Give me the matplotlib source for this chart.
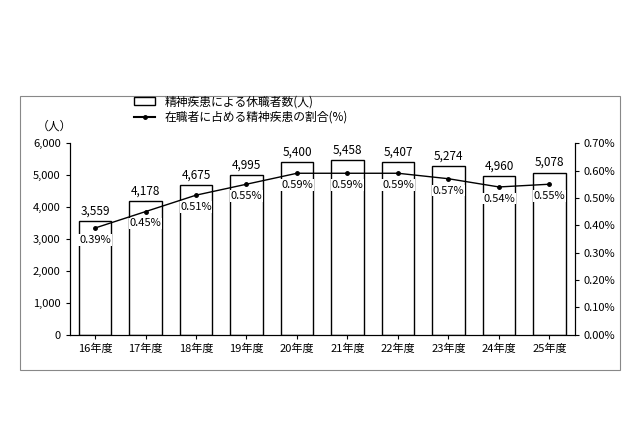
import matplotlib
matplotlib.use("Agg")
import matplotlib.pyplot as plt
from matplotlib.patches import Rectangle
from matplotlib.lines import Line2D
from matplotlib.patches import Patch

plt.rcParams["font.family"] = ["Noto Sans CJK JP", "DejaVu Sans"]

years = ["16年度", "17年度", "18年度", "19年度", "20年度", "21年度", "22年度", "23年度", "24年度", "25年度"]
leave_counts = [3559, 4178, 4675, 4995, 5400, 5458, 5407, 5274, 4960, 5078]
ratios = [0.39, 0.45, 0.51, 0.55, 0.59, 0.59, 0.59, 0.57, 0.54, 0.55]

fig = plt.figure(figsize=(6.4, 4.26), dpi=100)
fig.patch.set_facecolor("white")
fig.add_artist(Rectangle((20 / 640, 1 - 370 / 426), 600 / 640, 274 / 426,
                         transform=fig.transFigure, fill=False, edgecolor="#888888", lw=0.8))

ax = fig.add_axes([0.109, 0.214, 0.789, 0.45])
x = range(len(years))
ax.bar(x, leave_counts, width=0.65, facecolor="white", edgecolor="black", linewidth=1.0)
ax.set_ylim(0, 6000)
ax.set_xlim(-0.5, len(years) - 0.5)
ax.set_yticks(range(0, 6001, 1000))
ax.set_yticklabels([f"{v:,}" for v in range(0, 6001, 1000)], fontsize=8)
ax.set_xticks(list(x))
ax.set_xticklabels(years, fontsize=8)
for s in ["top"]:
    ax.spines[s].set_visible(False)
ax.tick_params(length=3, width=0.8)
for i, v in enumerate(leave_counts):
    ax.text(i, v + 120, f"{v:,}", ha="center", va="bottom", fontsize=8.5)

ax2 = ax.twinx()
ax2.plot(x, ratios, color="black", marker="o", markersize=2.5, linewidth=1.0)
ax2.set_ylim(0, 0.70)
ax2.set_yticks([i / 10 for i in range(8)])
ax2.set_yticklabels([f"{i / 10:.2f}%" for i in range(8)], fontsize=8)
ax2.spines["top"].set_visible(False)
ax2.tick_params(length=3, width=0.8)
for i, r in enumerate(ratios):
    ax2.text(i, r - 0.025, f"{r:.2f}%", ha="center", va="top", fontsize=8,
             bbox=dict(facecolor="white", edgecolor="none", pad=0.5))

fig.text(0.085, 0.695, "（人）", fontsize=8.5, ha="center")
handles = [Patch(facecolor="white", edgecolor="black", label="精神疾患による休職者数(人)"),
           Line2D([0], [0], color="black", marker="o", markersize=2.5, label="在職者に占める精神疾患の割合(%)")]
fig.legend(handles=handles, loc="upper left", bbox_to_anchor=(0.2, 0.79), frameon=False,
           fontsize=8.5, handlelength=1.8, handleheight=0.6, labelspacing=0.2, borderpad=0)

fig.savefig("out.png", dpi=100, facecolor="white")
